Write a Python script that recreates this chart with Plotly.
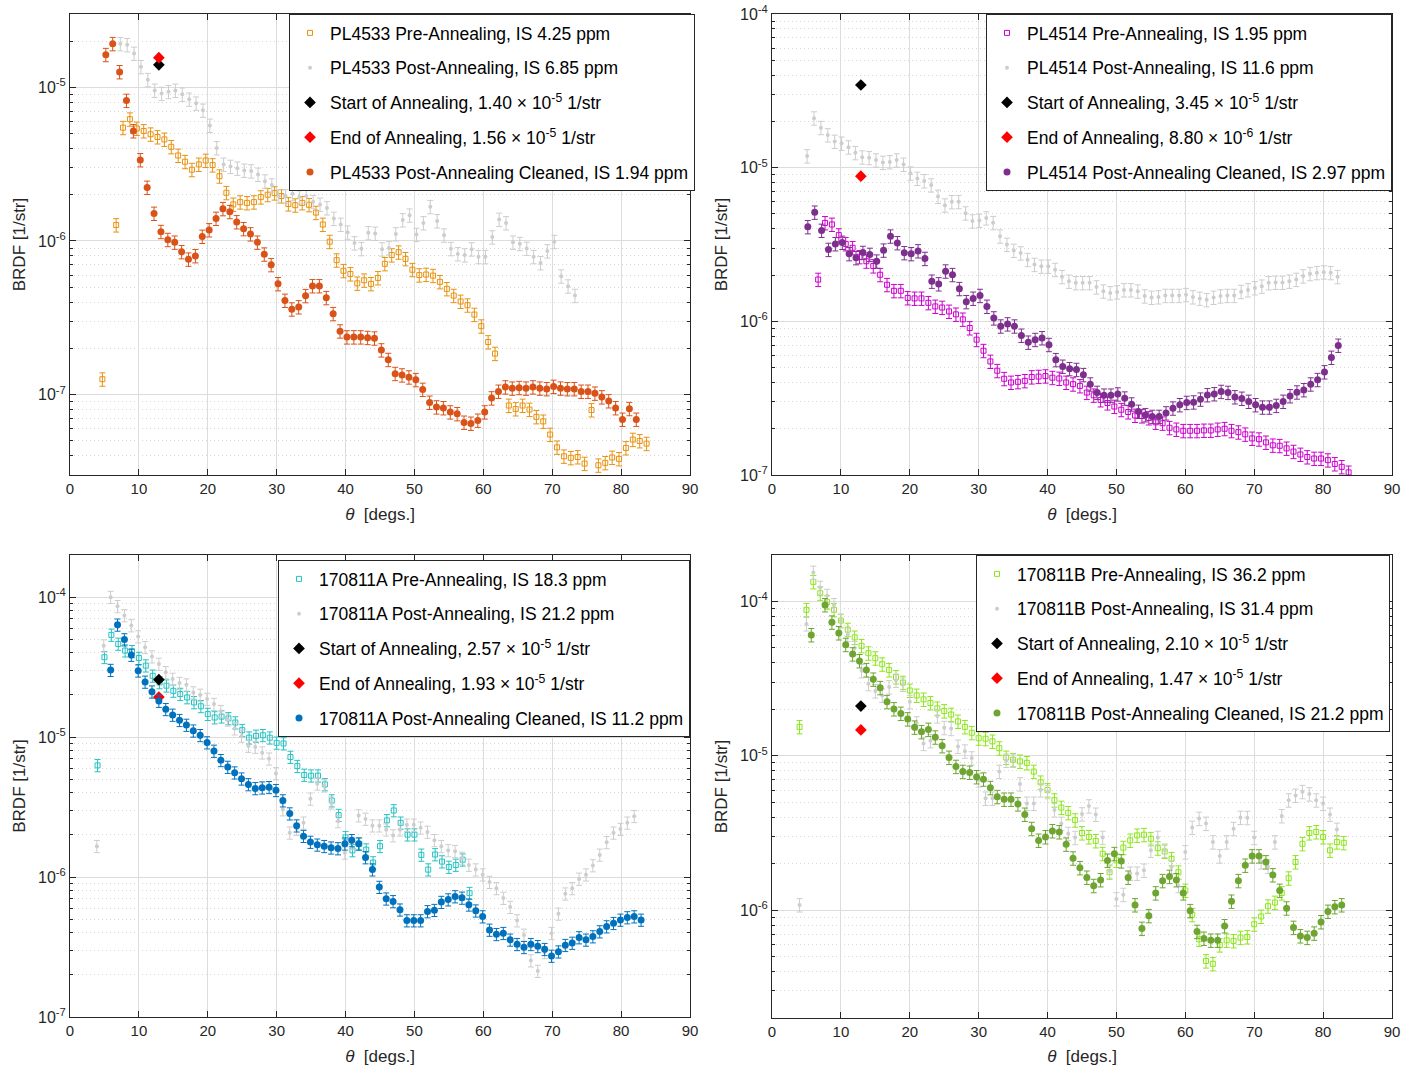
import math
import plotly.graph_objects as go

# ---------------- data (theta in degrees, BRDF in 1/str) ----------------
# Panel A: PL4533
PL4533_PRE_X = [4.7, 6.7, 7.7, 8.7, 9.7, 10.7, 11.7, 12.7, 13.7, 14.7, 15.7,
                16.7, 17.7, 18.7, 19.7, 20.7, 21.7, 22.7, 23.7, 24.7, 25.7,
                26.7, 27.7, 28.7, 29.7, 30.7, 31.7, 32.7, 33.7, 34.7, 35.7,
                36.7, 37.7, 38.7, 39.7, 40.7, 41.7, 42.7, 43.7, 44.7, 45.7,
                46.7, 47.7, 48.7, 49.7, 50.7, 51.7, 52.7, 53.7, 54.7, 55.7,
                56.7, 57.7, 58.7, 59.7, 60.7, 61.7,
                63.7, 64.7, 65.7, 66.7, 67.7, 68.7, 69.7, 70.7, 71.7, 72.7,
                73.7, 74.7, 75.7, 76.7, 77.7, 78.7, 79.7, 80.7, 81.7, 82.7, 83.7]
PL4533_PRE_Y = [1.26e-7,
                1.27e-6, 5.46e-6, 6.2e-6, 5.4e-6, 5.2e-6, 4.95e-6, 4.75e-6, 4.58e-6, 4.1e-6, 3.6e-6,
                3.28e-6, 2.91e-6, 3.15e-6, 3.34e-6, 3.12e-6, 2.64e-6, 2.06e-6, 1.73e-6, 1.79e-6, 1.77e-6,
                1.79e-6, 1.93e-6, 2.0e-6, 2.05e-6, 1.96e-6, 1.74e-6, 1.71e-6, 1.77e-6, 1.72e-6, 1.53e-6,
                1.28e-6, 9.9e-7, 7.5e-7, 6.4e-7, 6.1e-7, 5.3e-7, 5.55e-7, 5.26e-7, 5.75e-7, 7.1e-7,
                8.1e-7, 8.45e-7, 7.65e-7, 6.5e-7, 6.0e-7, 6.05e-7, 5.95e-7, 5.42e-7, 4.88e-7, 4.41e-7,
                4.04e-7, 3.82e-7, 3.32e-7, 2.79e-7, 2.2e-7, 1.85e-7,
                8.5e-8, 8.07e-8, 8.5e-8, 8.0e-8, 7.17e-8, 6.7e-8, 5.5e-8, 4.54e-8, 3.97e-8, 3.88e-8,
                3.93e-8, 3.56e-8, 7.95e-8, 3.47e-8, 3.6e-8, 3.9e-8, 3.82e-8, 4.5e-8, 5.1e-8, 5.0e-8, 4.8e-8]

PL4533_POST_X = [7.3, 8.3, 9.3, 10.3, 11.3, 12.3, 13.3, 14.3, 15.3, 16.3,
                 17.3, 18.3, 19.3, 20.3, 21.3, 22.3, 23.3, 24.3, 25.3, 26.3,
                 27.3, 28.3, 29.3, 30.3, 31.3, 32.3, 33.3, 34.3, 35.3, 36.3,
                 37.3, 38.3, 39.3, 40.3, 41.3, 42.3, 43.3, 44.3, 45.3, 46.3,
                 47.3, 48.3, 49.3, 50.3, 51.3, 52.3, 53.3, 54.3, 55.3, 56.3,
                 57.3, 58.3, 59.3, 60.3, 61.3, 62.3, 63.3, 64.3, 65.3, 66.3,
                 67.3, 68.3, 69.3, 70.3, 71.3, 72.3, 73.3]
PL4533_POST_Y = [1.92e-5, 1.89e-5, 1.66e-5, 1.36e-5, 1.12e-5, 9.55e-6, 9.1e-6, 9.35e-6, 9.55e-6, 9.0e-6,
                 8.35e-6, 7.87e-6, 7.08e-6, 5.65e-6, 4.03e-6, 3.15e-6, 3.05e-6, 2.97e-6, 2.88e-6, 2.85e-6,
                 2.71e-6, 2.45e-6, 2.31e-6, 1.96e-6, 1.96e-6, 2.03e-6, 1.93e-6, 1.96e-6, 1.8e-6, 1.73e-6,
                 1.64e-6, 1.40e-6, 1.28e-6, 1.14e-6, 9.7e-7, 8.9e-7, 1.13e-6, 1.12e-6, 8.85e-7, 9.0e-7,
                 1.11e-6, 1.37e-6, 1.47e-6, 1.10e-6, 1.31e-6, 1.67e-6, 1.35e-6, 1.09e-6, 8.9e-7, 8.24e-7,
                 8.1e-7, 8.85e-7, 7.9e-7, 7.9e-7, 1.06e-6, 1.38e-6, 1.31e-6, 9.8e-7, 9.6e-7, 8.93e-7,
                 7.9e-7, 7.2e-7, 8.6e-7, 9.9e-7, 5.9e-7, 5.08e-7, 4.41e-7]

PL4533_CLN_X = [5.2, 6.2, 7.2, 8.2, 9.2, 10.2, 11.2, 12.2, 13.2, 14.2,
                15.2, 16.2, 17.2, 18.2, 19.2, 20.2, 21.2, 22.2, 23.2, 24.2,
                25.2, 26.2, 27.2, 28.2, 29.2, 30.2, 31.2, 32.2, 33.2, 34.2,
                35.2, 36.2, 37.2, 38.2, 39.2, 40.2, 41.2, 42.2, 43.2, 44.2,
                45.2, 46.2, 47.2, 48.2, 49.2, 50.2, 51.2, 52.2, 53.2, 54.2,
                55.2, 56.2, 57.2, 58.2, 59.2, 60.2, 61.2, 62.2, 63.2, 64.2,
                65.2, 66.2, 67.2, 68.2, 69.2, 70.2, 71.2, 72.2, 73.2, 74.2,
                75.2, 76.2, 77.2, 78.2, 79.2, 80.2, 81.2, 82.2]
PL4533_CLN_Y = [1.63e-5, 1.92e-5, 1.26e-5, 8.2e-6, 5.2e-6, 3.37e-6, 2.23e-6, 1.51e-6, 1.15e-6, 1.02e-6,
                9.8e-7, 8.5e-7, 7.6e-7, 8.0e-7, 1.07e-6, 1.18e-6, 1.40e-6, 1.62e-6, 1.55e-6, 1.33e-6,
                1.20e-6, 1.11e-6, 9.8e-7, 8.2e-7, 7.0e-7, 5.26e-7, 4.1e-7, 3.6e-7, 3.72e-7, 4.4e-7,
                5.1e-7, 5.1e-7, 4.27e-7, 3.36e-7, 2.59e-7, 2.37e-7, 2.37e-7, 2.37e-7, 2.35e-7, 2.33e-7,
                1.95e-7, 1.69e-7, 1.37e-7, 1.34e-7, 1.3e-7, 1.25e-7, 1.08e-7, 8.9e-8, 8.3e-8, 8.2e-8,
                7.7e-8, 7.5e-8, 6.6e-8, 6.5e-8, 6.8e-8, 7.7e-8, 9.5e-8, 1.05e-7, 1.12e-7, 1.10e-7,
                1.11e-7, 1.10e-7, 1.12e-7, 1.10e-7, 1.09e-7, 1.13e-7, 1.10e-7, 1.09e-7, 1.09e-7, 1.05e-7,
                1.05e-7, 1.02e-7, 9.65e-8, 9.1e-8, 8.2e-8, 6.9e-8, 8.1e-8, 6.9e-8]

# Panel B: PL4514
PL4514_PRE_X = [6.7, 7.7, 8.7, 9.7, 10.7, 11.7, 12.7, 13.7, 14.7, 15.7,
                16.7, 17.7, 18.7, 19.7, 20.7, 21.7, 22.7, 23.7, 24.7, 25.7,
                26.7, 27.7, 28.7, 29.7, 30.7, 31.7, 32.7, 33.7, 34.7, 35.7,
                36.7, 37.7, 38.7, 39.7, 40.7, 41.7, 42.7, 43.7, 44.7, 45.7,
                46.7, 47.7, 48.7, 49.7, 50.7, 51.7, 52.7, 53.7, 54.7, 55.7,
                56.7, 57.7, 58.7, 59.7, 60.7, 61.7, 62.7, 63.7, 64.7, 65.7,
                66.7, 67.7, 68.7, 69.7, 70.7, 71.7, 72.7, 73.7, 74.7, 75.7,
                76.7, 77.7, 78.7, 79.7, 80.7, 81.7, 82.7, 83.7]
PL4514_PRE_Y = [1.87e-6, 4.37e-6, 4.27e-6, 3.64e-6, 3.19e-6, 3.01e-6, 2.63e-6, 2.46e-6, 2.29e-6, 2.01e-6,
                1.73e-6, 1.58e-6, 1.58e-6, 1.42e-6, 1.41e-6, 1.41e-6, 1.32e-6, 1.25e-6, 1.23e-6, 1.16e-6,
                1.11e-6, 1.03e-6, 9.05e-7, 7.6e-7, 6.44e-7, 5.48e-7, 4.77e-7, 4.23e-7, 4.0e-7, 4.04e-7,
                4.1e-7, 4.34e-7, 4.37e-7, 4.4e-7, 4.3e-7, 4.25e-7, 4.0e-7, 3.9e-7, 3.8e-7, 3.44e-7,
                3.3e-7, 3.08e-7, 2.94e-7, 2.79e-7, 2.66e-7, 2.57e-7, 2.44e-7, 2.42e-7, 2.35e-7, 2.2e-7,
                2.17e-7, 2.03e-7, 1.98e-7, 1.94e-7, 1.94e-7, 1.94e-7, 1.95e-7, 1.95e-7, 1.98e-7, 2.0e-7,
                1.94e-7, 1.9e-7, 1.84e-7, 1.73e-7, 1.71e-7, 1.63e-7, 1.56e-7, 1.55e-7, 1.49e-7, 1.42e-7,
                1.36e-7, 1.31e-7, 1.28e-7, 1.28e-7, 1.25e-7, 1.18e-7, 1.13e-7, 1.04e-7]

PL4514_POST_X = [5.1, 6.1, 7.1, 8.1, 9.1, 10.1, 11.1, 12.1, 13.1, 14.1,
                 15.1, 16.1, 17.1, 18.1, 19.1, 20.1, 21.1, 22.1, 23.1, 24.1,
                 25.1, 26.1, 27.1, 28.1, 29.1, 30.1, 31.1, 32.1, 33.1, 34.1,
                 35.1, 36.1, 37.1, 38.1, 39.1, 40.1, 41.1, 42.1, 43.1, 44.1,
                 45.1, 46.1, 47.1, 48.1, 49.1, 50.1, 51.1, 52.1, 53.1, 54.1,
                 55.1, 56.1, 57.1, 58.1, 59.1, 60.1, 61.1, 62.1, 63.1, 64.1,
                 65.1, 66.1, 67.1, 68.1, 69.1, 70.1, 71.1, 72.1, 73.1, 74.1,
                 75.1, 76.1, 77.1, 78.1, 79.1, 80.1, 81.1, 82.1]
PL4514_POST_Y = [1.19e-5, 2.1e-5, 1.82e-5, 1.63e-5, 1.48e-5, 1.44e-5, 1.36e-5, 1.25e-5, 1.17e-5, 1.16e-5,
                 1.12e-5, 1.08e-5, 1.09e-5, 1.12e-5, 1.05e-5, 9.2e-6, 8.5e-6, 8.2e-6, 7.7e-6, 6.5e-6,
                 5.7e-6, 5.99e-6, 6.0e-6, 5.06e-6, 4.49e-6, 4.53e-6, 4.7e-6, 4.38e-6, 3.58e-6, 3.16e-6,
                 2.89e-6, 2.78e-6, 2.52e-6, 2.34e-6, 2.28e-6, 2.28e-6, 2.17e-6, 1.95e-6, 1.82e-6, 1.78e-6,
                 1.78e-6, 1.78e-6, 1.67e-6, 1.57e-6, 1.53e-6, 1.55e-6, 1.6e-6, 1.6e-6, 1.57e-6, 1.46e-6,
                 1.43e-6, 1.44e-6, 1.47e-6, 1.47e-6, 1.47e-6, 1.49e-6, 1.44e-6, 1.41e-6, 1.38e-6, 1.43e-6,
                 1.46e-6, 1.47e-6, 1.47e-6, 1.56e-6, 1.6e-6, 1.65e-6, 1.69e-6, 1.78e-6, 1.79e-6, 1.79e-6,
                 1.82e-6, 1.87e-6, 1.97e-6, 2.04e-6, 2.07e-6, 2.09e-6, 2.07e-6, 1.95e-6]

PL4514_CLN_X = [5.2, 6.2, 7.2, 8.2, 9.2, 10.2, 11.2, 12.2, 13.2, 14.2,
                15.2, 16.2, 17.2, 18.2, 19.2, 20.2, 21.2, 22.2, 23.2, 24.2,
                25.2, 26.2, 27.2, 28.2, 29.2, 30.2, 31.2, 32.2, 33.2, 34.2,
                35.2, 36.2, 37.2, 38.2, 39.2, 40.2, 41.2, 42.2, 43.2, 44.2,
                45.2, 46.2, 47.2, 48.2, 49.2, 50.2, 51.2, 52.2, 53.2, 54.2,
                55.2, 56.2, 57.2, 58.2, 59.2, 60.2, 61.2, 62.2, 63.2, 64.2,
                65.2, 66.2, 67.2, 68.2, 69.2, 70.2, 71.2, 72.2, 73.2, 74.2,
                75.2, 76.2, 77.2, 78.2, 79.2, 80.2, 81.2, 82.2]
PL4514_CLN_Y = [4.12e-6, 5.12e-6, 3.9e-6, 2.93e-6, 3.19e-6, 3.26e-6, 2.75e-6, 2.59e-6, 2.8e-6, 2.72e-6,
                2.46e-6, 2.9e-6, 3.58e-6, 3.24e-6, 2.79e-6, 2.75e-6, 2.87e-6, 2.56e-6, 1.82e-6, 1.75e-6,
                2.12e-6, 2.01e-6, 1.63e-6, 1.34e-6, 1.41e-6, 1.47e-6, 1.25e-6, 1.05e-6, 9.3e-7, 9.6e-7,
                9.3e-7, 8.1e-7, 7.3e-7, 7.6e-7, 7.8e-7, 7.05e-7, 5.62e-7, 5.09e-7, 4.91e-7, 4.85e-7,
                4.49e-7, 3.9e-7, 3.44e-7, 3.3e-7, 3.3e-7, 3.36e-7, 3.16e-7, 2.89e-7, 2.59e-7, 2.46e-7,
                2.4e-7, 2.4e-7, 2.53e-7, 2.72e-7, 2.86e-7, 2.96e-7, 2.98e-7, 3.11e-7, 3.32e-7, 3.37e-7,
                3.49e-7, 3.44e-7, 3.22e-7, 3.15e-7, 3.01e-7, 2.86e-7, 2.76e-7, 2.76e-7, 2.83e-7, 3.01e-7,
                3.27e-7, 3.46e-7, 3.58e-7, 3.9e-7, 4.17e-7, 4.68e-7, 5.82e-7, 6.97e-7]

# Panel C: 170811A
S170811A_PRE_X = [4.0, 5.0, 6.0, 7.0, 8.0, 9.0, 10.0, 11.0, 12.0, 13.0,
                  14.0, 15.0, 16.0, 17.0, 18.0, 19.0, 20.0, 21.0, 22.0, 23.0,
                  24.0, 25.0, 26.0, 27.0, 28.0, 29.0, 30.0, 31.0, 32.0, 33.0,
                  34.0, 35.0, 36.0, 37.0, 38.0, 39.0, 40.0, 41.0, 42.0, 43.0,
                  44.0, 45.0, 46.0, 47.0, 48.0, 49.0, 50.0, 51.0, 52.0, 53.0,
                  54.0, 55.0, 56.0, 57.0, 58.0]
S170811A_PRE_Y = [6.28e-6, 3.72e-5, 5.37e-5, 4.63e-5, 4.15e-5, 4.1e-5, 3.67e-5, 3.24e-5, 2.74e-5, 2.46e-5,
                  2.33e-5, 2.14e-5, 2.03e-5, 1.92e-5, 1.77e-5, 1.66e-5, 1.46e-5, 1.38e-5, 1.4e-5, 1.36e-5,
                  1.27e-5, 1.12e-5, 9.9e-6, 1.02e-5, 1.03e-5, 9.9e-6, 9.1e-6, 9.0e-6, 7.2e-6, 6.2e-6,
                  5.36e-6, 5.3e-6, 5.3e-6, 4.59e-6, 3.52e-6, 2.77e-6, 1.92e-6, 1.55e-6, 1.73e-6, 1.57e-6,
                  1.27e-6, 1.66e-6, 2.54e-6, 2.99e-6, 2.44e-6, 2.01e-6, 2.01e-6, 1.44e-6, 1.13e-6, 1.45e-6,
                  1.29e-6, 1.18e-6, 1.22e-6, 1.33e-6, 7.67e-7]

S170811A_POST_X = [3.9, 4.9, 5.9, 6.9, 7.9, 8.9, 9.9, 10.9, 11.9, 12.9,
                   13.9, 14.9, 15.9, 16.9, 17.9, 18.9, 19.9, 20.9, 21.9, 22.9,
                   23.9, 24.9, 25.9, 26.9, 27.9, 28.9, 29.9, 30.9, 31.9, 32.9,
                   33.9, 34.9, 35.9, 36.9, 37.9, 38.9, 39.9, 40.9, 41.9, 42.9,
                   43.9, 44.9, 45.9, 46.9, 47.9, 48.9, 49.9, 50.9, 51.9, 52.9,
                   53.9, 54.9, 55.9, 56.9, 57.9, 58.9, 59.9, 60.9, 61.9, 62.9,
                   63.9, 64.9, 65.9, 66.9, 67.9, 68.9, 69.9, 70.9, 71.9, 72.9,
                   73.9, 74.9, 75.9, 76.9, 77.9, 78.9, 79.9, 80.9, 81.9]
S170811A_POST_Y = [1.66e-6, 4.5e-5, 1.0e-4, 8.6e-5, 7.4e-5, 6.27e-5, 5.23e-5, 4.38e-5, 3.76e-5, 3.33e-5,
                   2.9e-5, 2.6e-5, 2.43e-5, 2.37e-5, 2.08e-5, 2.0e-5, 1.87e-5, 1.72e-5, 1.53e-5, 1.33e-5,
                   1.15e-5, 1.02e-5, 8.64e-6, 8.5e-6, 7.74e-6, 7.0e-6, 5.5e-6, 3.04e-6, 2.07e-6, 2.2e-6,
                   2.44e-6, 3.62e-6, 4.64e-6, 4.5e-6, 3.4e-6, 2.5e-6, 1.49e-6, 1.75e-6, 2.75e-6, 2.6e-6,
                   2.33e-6, 2.33e-6, 2.18e-6, 1.98e-6, 2.18e-6, 2.36e-6, 2.36e-6, 2.25e-6, 2.1e-6, 1.83e-6,
                   1.66e-6, 1.55e-6, 1.53e-6, 1.37e-6, 1.22e-6, 1.13e-6, 1.04e-6, 9.2e-7, 8.3e-7, 7.08e-7,
                   6.1e-7, 4.89e-7, 3.86e-7, 2.53e-7, 2.13e-7, 2.9e-7, 3.97e-7, 5.46e-7, 7.6e-7, 8.3e-7,
                   9.7e-7, 1.04e-6, 1.21e-6, 1.44e-6, 1.77e-6, 2.07e-6, 2.2e-6, 2.44e-6, 2.72e-6]

S170811A_CLN_X = [5.9, 6.9, 7.9, 8.9, 9.9, 10.9, 11.9, 12.9, 13.9, 14.9,
                  15.9, 16.9, 17.9, 18.9, 19.9, 20.9, 21.9, 22.9, 23.9, 24.9,
                  25.9, 26.9, 27.9, 28.9, 29.9, 30.9, 31.9, 32.9, 33.9, 34.9,
                  35.9, 36.9, 37.9, 38.9, 39.9, 40.9, 41.9, 42.9, 43.9, 44.9,
                  45.9, 46.9, 47.9, 48.9, 49.9, 50.9, 51.9, 52.9, 53.9, 54.9,
                  55.9, 56.9, 57.9, 58.9, 59.9, 60.9, 61.9, 62.9, 63.9, 64.9,
                  65.9, 66.9, 67.9, 68.9, 69.9, 70.9, 71.9, 72.9, 73.9, 74.9,
                  75.9, 76.9, 77.9, 78.9, 79.9, 80.9, 81.9, 82.9]
S170811A_CLN_Y = [3.01e-5, 6.34e-5, 4.98e-5, 3.86e-5, 2.98e-5, 2.48e-5, 2.11e-5, 1.81e-5, 1.58e-5, 1.44e-5,
                  1.32e-5, 1.22e-5, 1.11e-5, 1.03e-5, 9.14e-6, 7.96e-6, 6.83e-6, 6.11e-6, 5.57e-6, 5.04e-6,
                  4.59e-6, 4.3e-6, 4.35e-6, 4.38e-6, 4.17e-6, 3.52e-6, 2.84e-6, 2.33e-6, 1.96e-6, 1.78e-6,
                  1.7e-6, 1.66e-6, 1.62e-6, 1.6e-6, 1.73e-6, 1.83e-6, 1.73e-6, 1.38e-6, 1.13e-6, 8.48e-7,
                  7.0e-7, 6.7e-7, 5.84e-7, 4.89e-7, 4.89e-7, 4.89e-7, 5.68e-7, 5.8e-7, 6.62e-7, 6.9e-7,
                  7.26e-7, 7.1e-7, 6.34e-7, 5.75e-7, 5.22e-7, 4.19e-7, 3.9e-7, 3.97e-7, 3.56e-7, 3.31e-7,
                  3.15e-7, 3.31e-7, 3.2e-7, 3.05e-7, 2.73e-7, 2.93e-7, 3.26e-7, 3.38e-7, 3.7e-7, 3.56e-7,
                  3.76e-7, 4.08e-7, 4.43e-7, 4.68e-7, 4.94e-7, 5.14e-7, 5.22e-7, 4.94e-7]

# Panel D: 170811B
S170811B_PRE_X = [4.0, 5.0, 6.0, 7.0, 8.0, 9.0, 10.0, 11.0, 12.0, 13.0,
                  14.0, 15.0, 16.0, 17.0, 18.0, 19.0, 20.0, 21.0, 22.0, 23.0,
                  24.0, 25.0, 26.0, 27.0, 28.0, 29.0, 30.0, 31.0, 32.0, 33.0,
                  34.0, 35.0, 36.0, 37.0, 38.0, 39.0, 40.0, 41.0, 42.0, 43.0,
                  44.0, 45.0, 46.0, 47.0, 48.0, 49.0, 50.0, 51.0, 52.0, 53.0,
                  54.0, 55.0, 56.0, 57.0, 58.0, 59.0, 60.0, 61.0, 62.0, 63.0,
                  64.0, 65.0, 66.0, 67.0, 68.0, 69.0, 70.0, 71.0, 72.0, 73.0,
                  74.0, 75.0, 76.0, 77.0, 78.0, 79.0, 80.0, 81.0, 82.0, 83.0]
S170811B_PRE_Y = [1.54e-5, 8.83e-5, 1.34e-4, 1.13e-4, 9.9e-5, 8.83e-5, 7.52e-5, 6.57e-5, 5.85e-5, 5.16e-5,
                  4.62e-5, 4.29e-5, 3.92e-5, 3.6e-5, 3.24e-5, 2.98e-5, 2.65e-5, 2.46e-5, 2.32e-5, 2.2e-5,
                  2.03e-5, 1.95e-5, 1.85e-5, 1.67e-5, 1.54e-5, 1.41e-5, 1.3e-5, 1.29e-5, 1.24e-5, 1.12e-5,
                  9.75e-6, 9.42e-6, 9.2e-6, 9.0e-6, 7.9e-6, 6.73e-6, 6.0e-6, 5.16e-6, 4.62e-6, 4.27e-6,
                  3.83e-6, 3.16e-6, 2.98e-6, 2.81e-6, 2.32e-6, 1.76e-6, 2.1e-6, 2.54e-6, 2.83e-6, 3.05e-6,
                  3.08e-6, 2.9e-6, 2.52e-6, 2.4e-6, 2.15e-6, 1.76e-6, 1.34e-6, 9.33e-7, 6.47e-7, 4.68e-7,
                  4.49e-7, 5.94e-7, 6.37e-7, 6.32e-7, 6.64e-7, 6.7e-7, 8.1e-7, 9.1e-7, 1.06e-6, 1.12e-6,
                  1.29e-6, 1.61e-6, 2.05e-6, 2.69e-6, 3.16e-6, 3.21e-6, 2.98e-6, 2.44e-6, 2.76e-6, 2.73e-6]

S170811B_POST_X = [4.0, 5.0, 6.0, 7.0, 8.0, 9.0, 10.0, 11.0, 12.0, 13.0,
                   14.0, 15.0, 16.0, 17.0, 18.0, 19.0, 20.0, 21.0, 22.0, 23.0,
                   24.0, 25.0, 26.0, 27.0, 28.0, 29.0, 30.0, 31.0, 32.0, 33.0,
                   34.0, 35.0, 36.0, 37.0, 38.0, 39.0, 40.0, 41.0, 42.0, 43.0,
                   44.0, 45.0, 46.0, 47.0, 48.0, 49.0, 50.0, 51.0, 52.0, 53.0,
                   54.0, 55.0, 56.0, 57.0, 58.0, 59.0, 60.0, 61.0, 62.0, 63.0,
                   64.0, 65.0, 66.0, 67.0, 68.0, 69.0, 70.0, 71.0, 72.0, 73.0,
                   74.0, 75.0, 76.0, 77.0, 78.0, 79.0, 80.0, 81.0, 82.0]
S170811B_POST_Y = [1.08e-6, 7.15e-5, 1.54e-4, 1.23e-4, 1.09e-4, 9.5e-5, 7.5e-5, 6.1e-5, 5.0e-5, 3.55e-5,
                   2.93e-5, 2.63e-5, 2.46e-5, 2.79e-5, 3.08e-5, 2.9e-5, 2.24e-5, 1.63e-5, 1.2e-5, 1.25e-5,
                   1.81e-5, 1.52e-5, 1.5e-5, 1.15e-5, 1.07e-5, 9.66e-6, 6.97e-6, 5.3e-6, 5.3e-6, 7.9e-6,
                   9.33e-6, 9.33e-6, 6.56e-6, 4.91e-6, 4.91e-6, 6.0e-6, 5.85e-6, 4.45e-6, 3.64e-6, 3.13e-6,
                   2.95e-6, 4.19e-6, 4.72e-6, 4.17e-6, 2.95e-6, 1.79e-6, 1.18e-6, 1.26e-6, 1.73e-6, 1.73e-6,
                   1.81e-6, 2.44e-6, 2.95e-6, 2.44e-6, 1.9e-6, 1.44e-6, 2.38e-6, 3.43e-6, 3.92e-6, 3.64e-6,
                   2.76e-6, 2.24e-6, 2.76e-6, 3.37e-6, 3.98e-6, 3.97e-6, 2.95e-6, 2.05e-6, 1.92e-6, 2.76e-6,
                   4.08e-6, 5.16e-6, 5.54e-6, 5.85e-6, 5.65e-6, 5.16e-6, 4.91e-6, 4.17e-6, 3.33e-6]

S170811B_CLN_X = [5.7, 7.7, 8.7, 9.7, 10.7, 11.7, 12.7, 13.7, 14.7, 15.7, 16.7,
                  17.7, 18.7, 19.7, 20.7, 21.7, 22.7, 23.7, 24.7, 25.7, 26.7,
                  27.7, 28.7, 29.7, 30.7, 31.7, 32.7, 33.7, 34.7, 35.7, 36.7,
                  37.7, 38.7, 39.7, 40.7, 41.7, 42.7, 43.7, 44.7, 45.7, 46.7,
                  47.7, 48.7, 49.7, 50.7, 51.7, 52.7, 53.7, 54.7, 55.7, 56.7,
                  57.7, 58.7, 59.7, 60.7, 61.7, 62.7, 63.7, 64.7, 65.7, 66.7,
                  67.7, 68.7, 69.7, 70.7, 71.7, 72.7, 73.7, 74.7, 75.7, 76.7,
                  77.7, 78.7, 79.7, 80.7, 81.7, 82.7]
S170811B_CLN_Y = [6.07e-5,
                  9.5e-5, 7.33e-5, 6.25e-5, 5.25e-5, 4.56e-5, 4.12e-5, 3.6e-5, 3.13e-5, 2.76e-5, 2.24e-5,
                  2.01e-5, 1.88e-5, 1.73e-5, 1.53e-5, 1.43e-5, 1.48e-5, 1.32e-5, 1.16e-5, 9.75e-6, 8.51e-6,
                  7.9e-6, 7.8e-6, 7.3e-6, 7.05e-6, 6.21e-6, 5.43e-6, 5.22e-6, 5.22e-6, 4.87e-6, 4.17e-6,
                  3.37e-6, 2.83e-6, 2.98e-6, 3.26e-6, 3.21e-6, 2.67e-6, 2.17e-6, 1.88e-6, 1.63e-6, 1.44e-6,
                  1.57e-6, 2.1e-6, 2.32e-6, 2.08e-6, 1.63e-6, 1.08e-6, 7.6e-7, 9.19e-7, 1.29e-6, 1.55e-6,
                  1.65e-6, 1.57e-6, 1.29e-6, 9.9e-7, 7.26e-7, 6.56e-7, 6.37e-7, 6.37e-7, 7.9e-7, 1.14e-6,
                  1.55e-6, 1.95e-6, 2.24e-6, 2.24e-6, 2.05e-6, 1.69e-6, 1.34e-6, 1.03e-6, 7.71e-7, 6.8e-7,
                  6.64e-7, 7.08e-7, 8.39e-7, 9.8e-7, 1.05e-6, 1.08e-6]

# Annealing markers (angle, start value, end value)
ANNEAL_THETA = [12.9, 12.9, 12.9, 12.9]
ANNEAL_START = [1.40e-5, 3.45e-5, 2.57e-5, 2.10e-5]
ANNEAL_END = [1.56e-5, 8.80e-6, 1.93e-5, 1.47e-5]
ANNEAL_START_LABEL = ["1.40 × 10<sup>-5</sup>", "3.45 × 10<sup>-5</sup>",
                      "2.57 × 10<sup>-5</sup>", "2.10 × 10<sup>-5</sup>"]
ANNEAL_END_LABEL = ["1.56 × 10<sup>-5</sup>", "8.80 × 10<sup>-6</sup>",
                    "1.93 × 10<sup>-5</sup>", "1.47 × 10<sup>-5</sup>"]

SAMPLES = ["PL4533", "PL4514", "170811A", "170811B"]
IS_PRE = ["4.25", "1.95", "18.3", "36.2"]
IS_POST = ["6.85", "11.6", "21.2", "31.4"]
IS_CLN = ["1.94", "2.97", "11.2", "21.2"]

X_TICKS = [0, 10, 20, 30, 40, 50, 60, 70, 80, 90]

# ---------------- styling ----------------
W, H = 1413, 1066
FONT = "Liberation Sans, Arial, Helvetica, sans-serif"
AXC = "#262626"
GRID = "#DCDCDC"
MGRID = "#D6D6D6"
GREY = "#CDCDCD"
ERR_PCT = 10

PRE_COLORS = ["#E8920F", "#CC00CC", "#26C2C2", "#8CE61A"]
CLN_COLORS = ["#D95319", "#7E2F8E", "#0072BD", "#6EA531"]

# pixel boxes: left, right, top, bottom
BOXES = [(70, 690, 14, 475), (772, 1392, 14, 475), (70, 690, 555, 1017), (772, 1392, 555, 1018)]
YRANGES = [(3e-8, 3e-5), (1e-7, 1e-4), (1e-7, 2e-4), (2e-7, 2e-4)]
LEGPOS = [(695, 14), (1392, 14), (690, 560), (1390, 555)]

data = [
    (PL4533_PRE_X, PL4533_PRE_Y, PL4533_POST_X, PL4533_POST_Y, PL4533_CLN_X, PL4533_CLN_Y),
    (PL4514_PRE_X, PL4514_PRE_Y, PL4514_POST_X, PL4514_POST_Y, PL4514_CLN_X, PL4514_CLN_Y),
    (S170811A_PRE_X, S170811A_PRE_Y, S170811A_POST_X, S170811A_POST_Y, S170811A_CLN_X, S170811A_CLN_Y),
    (S170811B_PRE_X, S170811B_PRE_Y, S170811B_POST_X, S170811B_POST_Y, S170811B_CLN_X, S170811B_CLN_Y),
]

fig = go.Figure()
layout = dict(width=W, height=H, margin=dict(l=0, r=0, t=0, b=0, autoexpand=False),
              paper_bgcolor="white", plot_bgcolor="white",
              font=dict(family=FONT, color=AXC, size=15), showlegend=True)


def err(c):
    return dict(type="percent", value=ERR_PCT, color=c, thickness=1, width=3)


for i in range(4):
    sfx = "" if i == 0 else str(i + 1)
    xa, ya = "x" + sfx, "y" + sfx
    leg = "legend" + sfx
    px, py, gx, gy, cx, cy = data[i]
    s = SAMPLES[i]

    fig.add_trace(go.Scatter(
        x=px, y=py, mode="markers", xaxis=xa, yaxis=ya, legend=leg, legendgroup=f"g{i}a",
        name=f"{s} Pre-Annealing, IS {IS_PRE[i]} ppm",
        marker=dict(symbol="square-open", size=5, color=PRE_COLORS[i], line=dict(width=1, color=PRE_COLORS[i])),
        error_y=err(PRE_COLORS[i])))
    fig.add_trace(go.Scatter(
        x=gx, y=gy, mode="markers", xaxis=xa, yaxis=ya, legend=leg, legendgroup=f"g{i}b",
        name=f"{s} Post-Annealing, IS {IS_POST[i]} ppm",
        marker=dict(symbol="circle", size=4, color=GREY),
        error_y=err(GREY)))
    fig.add_trace(go.Scatter(
        x=[ANNEAL_THETA[i]], y=[ANNEAL_START[i]], mode="markers", xaxis=xa, yaxis=ya,
        legend=leg, legendgroup=f"g{i}c",
        name=f"Start of Annealing, {ANNEAL_START_LABEL[i]} 1/str",
        marker=dict(symbol="diamond", size=9, color="black")))
    fig.add_trace(go.Scatter(
        x=[ANNEAL_THETA[i]], y=[ANNEAL_END[i]], mode="markers", xaxis=xa, yaxis=ya,
        legend=leg, legendgroup=f"g{i}d",
        name=f"End of Annealing, {ANNEAL_END_LABEL[i]} 1/str",
        marker=dict(symbol="diamond", size=9, color="#FF0000")))
    fig.add_trace(go.Scatter(
        x=cx, y=cy, mode="markers", xaxis=xa, yaxis=ya, legend=leg, legendgroup=f"g{i}e",
        name=f"{s} Post-Annealing Cleaned, IS {IS_CLN[i]} ppm",
        marker=dict(symbol="circle", size=7, color=CLN_COLORS[i]),
        error_y=err(CLN_COLORS[i])))

    l, r, t, b = BOXES[i]
    lo, hi = YRANGES[i]
    e0, e1 = math.floor(math.log10(lo)), math.ceil(math.log10(hi))
    majors = [10.0 ** e for e in range(e0, e1 + 1) if lo * 0.999 <= 10.0 ** e <= hi * 1.001]
    minors = [m * 10.0 ** e for e in range(e0, e1 + 1) for m in range(2, 10)
              if lo <= m * 10.0 ** e <= hi]

    layout["xaxis" + sfx] = dict(
        domain=[l / W, r / W], anchor=ya, range=[0, 90], automargin=False,
        tickmode="array", tickvals=X_TICKS, ticktext=[str(v) for v in X_TICKS],
        showline=True, linecolor=AXC, linewidth=1, mirror="ticks",
        ticks="inside", ticklen=6, tickcolor=AXC, tickwidth=1,
        showgrid=True, gridcolor=GRID, gridwidth=1, zeroline=False,
        tickfont=dict(size=15, color=AXC, family=FONT),
        title=dict(text="<i>θ</i>\u00a0\u00a0[degs.]", font=dict(size=17, color=AXC, family=FONT), standoff=12))
    layout["yaxis" + sfx] = dict(
        domain=[1 - b / H, 1 - t / H], anchor=xa, type="log", automargin=False,
        range=[math.log10(lo), math.log10(hi)],
        tickmode="array", tickvals=majors,
        ticktext=[f"10<sup>{int(round(math.log10(v)))}</sup>" for v in majors],
        showline=True, linecolor=AXC, linewidth=1, mirror="ticks",
        ticks="inside", ticklen=6, tickcolor=AXC, tickwidth=1,
        showgrid=True, gridcolor=GRID, gridwidth=1, zeroline=False,
        minor=dict(tickmode="array", tickvals=minors, ticks="inside", ticklen=3, tickcolor=AXC,
                   showgrid=True, gridcolor=MGRID, griddash="1px,3px", gridwidth=1),
        tickfont=dict(size=16, color=AXC, family=FONT),
        title=dict(text="BRDF [1/str]", font=dict(size=17, color=AXC, family=FONT), standoff=8))
    lx, ly = LEGPOS[i]
    layout[leg] = dict(x=lx / W, y=1 - ly / H, xanchor="right", yanchor="top",
                       bgcolor="white", bordercolor=AXC, borderwidth=1,
                       font=dict(size=17.5, color="#000000", family=FONT),
                       traceorder="grouped", tracegroupgap=9)

fig.update_layout(**layout)
fig.write_html("out.html", config={"displayModeBar": False},
               post_script="document.body.style.margin='0px';")
